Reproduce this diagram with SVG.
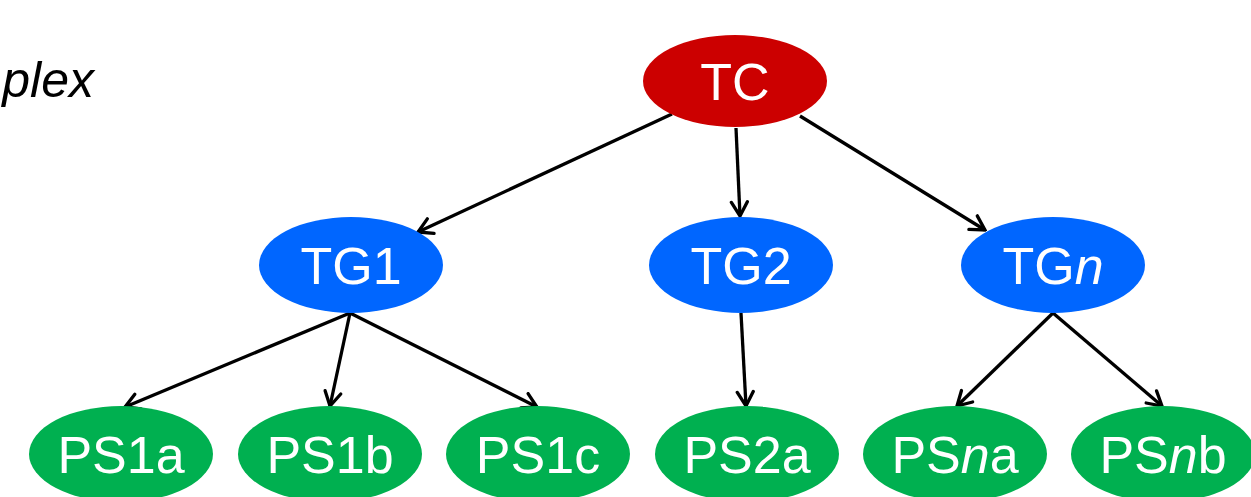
<svg xmlns="http://www.w3.org/2000/svg" width="1251" height="497" viewBox="0 0 1251 497">
<style>
.lbl{font-family:"Liberation Sans",Arial,sans-serif;font-size:52px;fill:#fff;text-anchor:middle}
.tc{fill:#CC0000}.tg{fill:#0066FF}.ps{fill:#00B050}
.e{stroke:#000;stroke-width:3.3;fill:none;marker-end:url(#ah)}
</style>
<defs>
<marker id="ah" viewBox="0 0 20 20" refX="18" refY="10" markerWidth="20" markerHeight="20" markerUnits="userSpaceOnUse" orient="auto">
<path d="M4,2 L18,10 L4,18" fill="none" stroke="#000" stroke-width="3.3" stroke-linecap="round" stroke-linejoin="miter"/>
</marker>
</defs>
<rect width="1251" height="497" fill="#fff"/>
<text x="94" y="97" font-family="Liberation Sans,Arial,sans-serif" font-size="50" font-style="italic" text-anchor="end" fill="#000">plex</text>
<g id="edges">
<line class="e" x1="672" y1="114" x2="418" y2="232"/>
<line class="e" x1="736" y1="128" x2="740" y2="216"/>
<line class="e" x1="800" y1="116" x2="985" y2="230"/>
<line class="e" x1="350" y1="313" x2="125" y2="407"/>
<line class="e" x1="350" y1="313" x2="330" y2="406"/>
<line class="e" x1="350" y1="313" x2="537" y2="407"/>
<line class="e" x1="741" y1="313" x2="746" y2="406"/>
<line class="e" x1="1053" y1="313" x2="957" y2="406"/>
<line class="e" x1="1053" y1="313" x2="1162" y2="406"/>
</g>
<g id="TC"><ellipse class="tc" cx="735" cy="81" rx="92" ry="46"/><text class="lbl" x="735" y="100">TC</text></g>
<g id="TG1"><ellipse class="tg" cx="351" cy="265" rx="92" ry="48"/><text class="lbl" x="351" y="284">TG1</text></g>
<g id="TG2"><ellipse class="tg" cx="741" cy="265" rx="92" ry="48"/><text class="lbl" x="741" y="284">TG2</text></g>
<g id="TGn"><ellipse class="tg" cx="1053" cy="265" rx="92" ry="48"/><text class="lbl" x="1053" y="284">TG<tspan font-style="italic">n</tspan></text></g>
<g id="PS1a"><ellipse class="ps" cx="121" cy="454" rx="92" ry="48"/><text class="lbl" x="121" y="473">PS1a</text></g>
<g id="PS1b"><ellipse class="ps" cx="330" cy="454" rx="92" ry="48"/><text class="lbl" x="330" y="473">PS1b</text></g>
<g id="PS1c"><ellipse class="ps" cx="538" cy="454" rx="92" ry="48"/><text class="lbl" x="538" y="473">PS1c</text></g>
<g id="PS2a"><ellipse class="ps" cx="747" cy="454" rx="92" ry="48"/><text class="lbl" x="747" y="473">PS2a</text></g>
<g id="PSna"><ellipse class="ps" cx="955" cy="454" rx="92" ry="48"/><text class="lbl" x="955" y="473">PS<tspan font-style="italic">n</tspan>a</text></g>
<g id="PSnb"><ellipse class="ps" cx="1163" cy="454" rx="92" ry="48"/><text class="lbl" x="1163" y="473">PS<tspan font-style="italic">n</tspan>b</text></g>
</svg>
